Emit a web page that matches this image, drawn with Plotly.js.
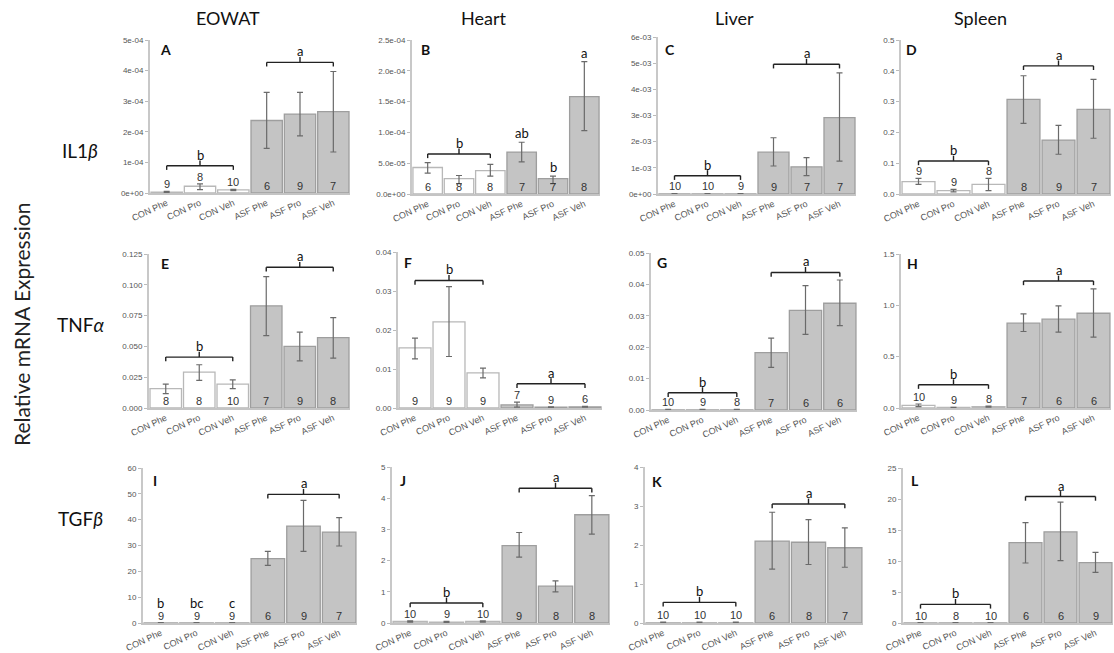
<!DOCTYPE html>
<html><head><meta charset="utf-8">
<script src="https://cdn.plot.ly/plotly-3.0.1.min.js"></script>
<style>html,body{margin:0;padding:0;background:#fff}#chart{width:1114px;height:653px}</style>
</head><body><div id="chart"></div>
<script>
const groups = ["CON Phe","CON Pro","CON Veh","ASF Phe","ASF Pro","ASF Veh"];
const columnTitles = ["EOWAT","Heart","Liver","Spleen"];
const rowTitles = ["IL1<i>β</i>","TNF<i>α</i>","TGF<i>β</i>"];
const yTitle = "Relative mRNA Expression";

// Panel A: IL1b EOWAT
const A_mean = [0.000003,0.000022,0.000010,0.000237,0.000258,0.000266];
const A_hi   = [0.000005,0.000030,0.000012,0.000329,0.000329,0.000397];
const A_lo   = [0.000001,0.000011,0.000008,0.000146,0.000187,0.000134];
const A_n    = [9,8,10,6,9,7];
// Panel B: IL1b Heart
const B_mean = [0.000043,0.000025,0.000038,0.000068,0.000025,0.000158];
const B_hi   = [0.000051,0.000030,0.000048,0.000084,0.000029,0.000215];
const B_lo   = [0.000034,0.000017,0.000029,0.000052,0.000017,0.000103];
const B_n    = [6,8,8,7,7,8];
// Panel C: IL1b Liver
const C_mean = [0.00001,0.00001,0.00001,0.00160,0.00104,0.00292];
const C_hi   = [0.00002,0.00002,0.00002,0.00215,0.00139,0.00463];
const C_lo   = [0.000005,0.000005,0.000005,0.00107,0.00070,0.00126];
const C_n    = [10,10,9,9,7,7];
// Panel D: IL1b Spleen
const D_mean = [0.040,0.011,0.031,0.307,0.175,0.275];
const D_hi   = [0.051,0.015,0.051,0.384,0.223,0.372];
const D_lo   = [0.031,0.007,0.011,0.229,0.129,0.181];
const D_n    = [9,9,8,8,9,7];
// Panel E: TNFa EOWAT
const E_mean = [0.0157,0.0292,0.0194,0.0829,0.0500,0.0572];
const E_hi   = [0.0194,0.0351,0.0229,0.1066,0.0616,0.0734];
const E_lo   = [0.0116,0.0224,0.0157,0.0588,0.0383,0.0405];
const E_n    = [8,8,10,7,9,8];
// Panel F: TNFa Heart
const F_mean = [0.0154,0.0221,0.0090,0.0008,0.0002,0.0003];
const F_hi   = [0.0179,0.0311,0.0102,0.0015,0.0003,0.0004];
const F_lo   = [0.0126,0.0132,0.0077,0.0002,0.0001,0.0002];
const F_n    = [9,9,9,7,9,6];
// Panel G: TNFa Liver
const G_mean = [0.0001,0.0001,0.0001,0.0183,0.0317,0.0340];
const G_hi   = [0.0002,0.0002,0.0002,0.0229,0.0396,0.0414];
const G_lo   = [0.00005,0.00005,0.00005,0.0136,0.0241,0.0269];
const G_n    = [10,9,8,7,6,6];
// Panel H: TNFa Spleen
const H_mean = [0.026,0.005,0.013,0.826,0.865,0.923];
const H_hi   = [0.039,0.007,0.018,0.917,0.994,1.160];
const H_lo   = [0.013,0.003,0.008,0.745,0.739,0.690];
const H_n    = [10,9,8,7,6,6];
// Panel I: TGFb EOWAT
const I_mean = [0.10,0.10,0.10,24.9,37.5,35.2];
const I_hi   = [0.15,0.15,0.15,27.7,47.5,40.8];
const I_lo   = [0.05,0.05,0.05,22.3,27.7,29.8];
const I_n    = [9,9,9,6,9,7];
// Panel J: TGFb Heart
const J_mean = [0.05,0.03,0.05,2.48,1.18,3.47];
const J_hi   = [0.07,0.05,0.07,2.90,1.35,4.08];
const J_lo   = [0.03,0.01,0.03,2.11,1.00,2.85];
const J_n    = [10,9,10,9,8,8];
// Panel K: TGFb Liver
const K_mean = [0.01,0.01,0.01,2.10,2.07,1.93];
const K_hi   = [0.02,0.02,0.02,2.84,2.65,2.44];
const K_lo   = [0.005,0.005,0.005,1.38,1.50,1.43];
const K_n    = [10,10,10,6,8,7];
// Panel L: TGFb Spleen
const L_mean = [0.05,0.05,0.05,12.96,14.7,9.73];
const L_hi   = [0.08,0.08,0.08,16.2,19.5,11.4];
const L_lo   = [0.02,0.02,0.02,9.68,10.05,8.17];
const L_n    = [10,8,10,6,6,9];

// y tick values / labels
const A_tv = [0,0.0001,0.0002,0.0003,0.0004,0.0005], A_tt = ["0e+00","1e-04","2e-04","3e-04","4e-04","5e-04"];
const B_tv = [0,0.00005,0.0001,0.00015,0.0002,0.00025], B_tt = ["0.0e+00","5.0e-05","1.0e-04","1.5e-04","2.0e-04","2.5e-04"];
const C_tv = [0,0.001,0.002,0.003,0.004,0.005,0.006], C_tt = ["0e+00","1e-03","2e-03","3e-03","4e-03","5e-03","6e-03"];
const D_tv = [0,0.1,0.2,0.3,0.4,0.5], D_tt = ["0.0","0.1","0.2","0.3","0.4","0.5"];
const E_tv = [0,0.025,0.05,0.075,0.1,0.125], E_tt = ["0.000","0.025","0.050","0.075","0.100","0.125"];
const F_tv = [0,0.01,0.02,0.03,0.04], F_tt = ["0.00","0.01","0.02","0.03","0.04"];
const G_tv = [0,0.01,0.02,0.03,0.04,0.05], G_tt = ["0.00","0.01","0.02","0.03","0.04","0.05"];
const H_tv = [0,0.5,1.0,1.5], H_tt = ["0.0","0.5","1.0","1.5"];
const I_tv = [0,10,20,30,40,50,60], I_tt = ["0","10","20","30","40","50","60"];
const J_tv = [0,1,2,3,4,5], J_tt = ["0","1","2","3","4","5"];
const K_tv = [0,1,2,3,4], K_tt = ["0","1","2","3","4"];
const L_tv = [0,5,10,15,20,25], L_tt = ["0","5","10","15","20","25"];

// significance brackets: [from, to, y, letter]; single letters: [bar, y, letter]
const A_br = [[0,2,0.000089,"b"],[3,5,0.000427,"a"]], A_sg = [];
const B_br = [[0,2,0.000065,"b"]], B_sg = [[3,0.000099,"ab"],[4,0.000044,"b"],[5,0.000229,"a"]];
const C_br = [[0,2,0.00070,"b"],[3,5,0.00496,"a"]], C_sg = [];
const D_br = [[0,2,0.107,"b"],[3,5,0.416,"a"]], D_sg = [];
const E_br = [[0,2,0.0413,"b"],[3,5,0.1142,"a"]], E_sg = [];
const F_br = [[0,2,0.0327,"b"],[3,5,0.0062,"a"]], F_sg = [];
const G_br = [[0,2,0.0055,"b"],[3,5,0.0438,"a"]], G_sg = [];
const H_br = [[0,2,0.227,"b"],[3,5,1.237,"a"]], H_sg = [];
const I_br = [[3,5,49.8,"a"]], I_sg = [[0,7.6,"b"],[1,7.6,"bc"],[2,7.6,"c"]];
const J_br = [[0,2,0.64,"b"],[3,5,4.32,"a"]], J_sg = [];
const K_br = [[0,2,0.53,"b"],[3,5,3.05,"a"]], K_sg = [];
const L_br = [[0,2,3.0,"b"],[3,5,20.4,"a"]], L_sg = [];

const panelIds = ["A","B","C","D","E","F","G","H","I","J","K","L"];
const means = [A_mean,B_mean,C_mean,D_mean,E_mean,F_mean,G_mean,H_mean,I_mean,J_mean,K_mean,L_mean];
const his = [A_hi,B_hi,C_hi,D_hi,E_hi,F_hi,G_hi,H_hi,I_hi,J_hi,K_hi,L_hi];
const los = [A_lo,B_lo,C_lo,D_lo,E_lo,F_lo,G_lo,H_lo,I_lo,J_lo,K_lo,L_lo];
const ns = [A_n,B_n,C_n,D_n,E_n,F_n,G_n,H_n,I_n,J_n,K_n,L_n];
const tvs = [A_tv,B_tv,C_tv,D_tv,E_tv,F_tv,G_tv,H_tv,I_tv,J_tv,K_tv,L_tv];
const tts = [A_tt,B_tt,C_tt,D_tt,E_tt,F_tt,G_tt,H_tt,I_tt,J_tt,K_tt,L_tt];
const brs = [A_br,B_br,C_br,D_br,E_br,F_br,G_br,H_br,I_br,J_br,K_br,L_br];
const sgs = [A_sg,B_sg,C_sg,D_sg,E_sg,F_sg,G_sg,H_sg,I_sg,J_sg,K_sg,L_sg];

// layout: pixel boxes [left, right, top, bottom]
const W = 1114, H = 653;
const boxes = [
  [150,350,40,193],[412,600,40,194],[658,856,37,194],[901,1111,40,194],
  [149,350,254,408],[398,602,252,408],[651,857,253,410],[901,1111,254,408],
  [143,357,468,623],[392,610,467,623],[645,863,467,623],[903,1113,468,623]
];
const letterPos = [[166,50],[425,50],[670,50],[911,50],[165,263],[408,262],[662,262],[912,263],[155,480],[403,480],[657,481],[915,480]];
const colTitlePos = [228,483,735,980];
const rowTitlePos = [150,325,518];

const tickFont = {family:"Liberation Sans, Arial, sans-serif", size:8, color:"#555"};
const xTickFont = {family:"Liberation Sans, Arial, sans-serif", size:9, color:"#555"};
const nFont = {family:"Liberation Sans, Arial, sans-serif", size:11, color:"#333"};
const sigFont = {family:"Lato, Open Sans, sans-serif", size:13, color:"#111"};

const traces = [];
const layout = {
  width:W, height:H, margin:{l:0,r:0,t:0,b:0}, showlegend:false,
  paper_bgcolor:"#fff", plot_bgcolor:"rgba(0,0,0,0)", bargap:0.06,
  annotations:[], shapes:[]
};

panelIds.forEach((id,k)=>{
  const xa = k===0 ? "x" : "x"+(k+1);
  const ya = k===0 ? "y" : "y"+(k+1);
  const xk = k===0 ? "xaxis" : "xaxis"+(k+1);
  const yk = k===0 ? "yaxis" : "yaxis"+(k+1);
  const [x0,x1,yt,yb] = boxes[k];
  const tv = tvs[k];
  const top = tv[tv.length-1];
  const m = means[k], hi = his[k], lo = los[k];
  traces.push({
    type:"bar", x:groups, y:m, xaxis:xa, yaxis:ya, hoverinfo:"skip",
    marker:{color:groups.map((g,i)=> i<3 ? "#ffffff" : "#c4c4c4"),
            line:{color:groups.map((g,i)=> i<3 ? "#b8b8b8" : "#9e9e9e"), width:1.3}},
    error_y:{type:"data", symmetric:false,
             array:m.map((v,i)=>hi[i]-v), arrayminus:m.map((v,i)=>v-lo[i]),
             color:"#6a6a6a", thickness:1.2, width:3}
  });
  layout[xk] = {domain:[x0/W, x1/W], anchor:ya, type:"category", range:[-0.5,5.5],
    showline:true, linecolor:"#c4c4c4", linewidth:1.5, ticks:"", tickangle:-25,
    tickfont:xTickFont, showgrid:false, zeroline:false, fixedrange:true};
  layout[yk] = {domain:[1-yb/H, 1-yt/H], anchor:xa, range:[0,top],
    tickmode:"array", tickvals:tv, ticktext:tts[k],
    showline:true, linecolor:"#c8c8c8", linewidth:2, ticks:"outside", ticklen:3,
    tickcolor:"#bbb", tickwidth:1, tickfont:tickFont, showgrid:false, zeroline:false, fixedrange:true};

  // n labels
  ns[k].forEach((n,i)=>{
    const inside = m[i]/top > 0.09;
    layout.annotations.push({xref:xa, yref:ya, x:i, y: inside ? 0 : hi[i],
      text:String(n), showarrow:false, yanchor:"bottom", xanchor:"center",
      yshift: inside ? 0 : 0, font:nFont, borderpad:0});
  });
  // brackets
  const tl = top*0.027;
  brs[k].forEach(([a,b,y,letter])=>{
    const mid = (a+b)/2;
    const ln = {color:"#222", width:1.4};
    layout.shapes.push({type:"line", xref:xa, yref:ya, x0:a, x1:b, y0:y, y1:y, line:ln});
    layout.shapes.push({type:"line", xref:xa, yref:ya, x0:a, x1:a, y0:y, y1:y-tl, line:ln});
    layout.shapes.push({type:"line", xref:xa, yref:ya, x0:b, x1:b, y0:y, y1:y-tl, line:ln});
    layout.shapes.push({type:"line", xref:xa, yref:ya, x0:mid, x1:mid, y0:y, y1:y+tl*1.3, line:ln});
    layout.annotations.push({xref:xa, yref:ya, x:mid, y:y, text:letter, showarrow:false,
      yanchor:"bottom", yshift:2, font:sigFont, borderpad:0});
  });
  sgs[k].forEach(([i,y,letter])=>{
    layout.annotations.push({xref:xa, yref:ya, x:i, y:y, text:letter, showarrow:false,
      yanchor:"middle", font:sigFont});
  });
  // panel letter
  layout.annotations.push({xref:"paper", yref:"paper", x:letterPos[k][0]/W, y:1-letterPos[k][1]/H,
    text:"<b>"+id+"</b>", showarrow:false, xanchor:"center", yanchor:"middle",
    font:{family:"Lato, Open Sans, sans-serif", size:14, color:"#111"}});
});

columnTitles.forEach((t,c)=>{
  layout.annotations.push({xref:"paper", yref:"paper", x:colTitlePos[c]/W, y:1-18/H, text:t,
    showarrow:false, xanchor:"center", yanchor:"middle",
    font:{family:"Lato, Open Sans, sans-serif", size:18, color:"#111"}});
});
rowTitles.forEach((t,r)=>{
  layout.annotations.push({xref:"paper", yref:"paper", x:80/W, y:1-rowTitlePos[r]/H, text:t,
    showarrow:false, xanchor:"center", yanchor:"middle",
    font:{family:"Lato, Open Sans, sans-serif", size:19, color:"#111"}});
});
layout.annotations.push({xref:"paper", yref:"paper", x:22/W, y:1-325/H, text:yTitle,
  showarrow:false, textangle:-90, xanchor:"center", yanchor:"middle",
  font:{family:"Lato, Open Sans, sans-serif", size:21, color:"#222"}});

Plotly.newPlot("chart", traces, layout, {staticPlot:true, displayModeBar:false});
</script>
</body></html>
